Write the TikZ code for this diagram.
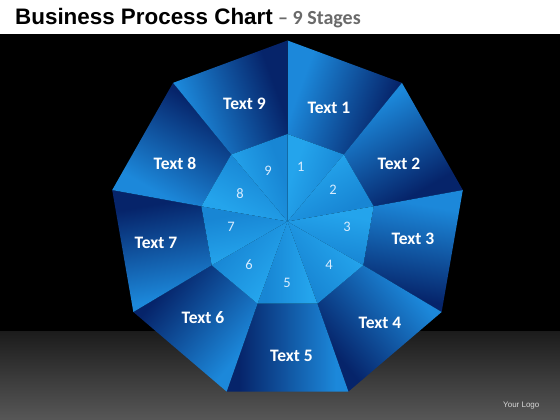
\documentclass[tikz,border=0pt]{standalone}
\usepackage{fontspec}
\setmainfont{Carlito}
\newfontfamily\titlefont{Liberation Sans}
\definecolor{segdark}{HTML}{06246A}
\definecolor{seglight}{HTML}{1C88DA}
\definecolor{inlight}{HTML}{24A4EC}
\definecolor{indark}{HTML}{1886D4}
\definecolor{floortop}{HTML}{1C1C1C}
\definecolor{floorbot}{HTML}{575757}
\definecolor{subgray}{HTML}{6A6A6A}
\definecolor{numcol}{HTML}{D8ECFF}
\definecolor{logocol}{HTML}{D8D8D8}
\pgfdeclarehorizontalshading{outshade}{100bp}{color(0bp)=(seglight); color(30bp)=(seglight); color(70bp)=(segdark); color(100bp)=(segdark)}
\pgfdeclarehorizontalshading{inshade}{100bp}{color(0bp)=(inlight); color(32bp)=(inlight); color(68bp)=(indark); color(100bp)=(indark)}
\tikzset{
  lbl/.style={text=white, font=\bfseries\fontsize{17.5}{19}\selectfont, inner sep=0pt},
  num/.style={text=numcol, font=\fontsize{14.5}{16}\selectfont, inner sep=0pt}
}
\begin{document}
\begin{tikzpicture}[x=1pt,y=1pt]
\useasboundingbox (0,0) rectangle (560,420);
% background
\fill[black] (0,0) rectangle (560,386);
\shade[top color=floortop, bottom color=floorbot] (0,0) rectangle (560,88);
\fill[white] (0,386) rectangle (560,420);
% chart
\begin{scope}[shift={(287.5,198.5)}]
\foreach \i in {1,...,9} {
  \pgfmathsetmacro\a{90-40*(\i-1)}
  \pgfmathsetmacro\b{\a-40}
  \pgfmathsetmacro\m{\a-110}
  \shade[shading=outshade, shading angle=\m]
    (\a:178 and 181) -- (\b:178 and 181) -- (\b:87.5) -- (\a:87.5) -- cycle;
  \shade[shading=inshade, shading angle=\m]
    (0,0) -- (\a:87.5) -- (\b:87.5) -- cycle;
}
\end{scope}
% outer labels
\node[lbl] (t1) at (329,312.5) {Text 1};
\node[lbl] (t2) at (399,256) {Text 2};
\node[lbl] (t3) at (413,181) {Text 3};
\node[lbl] (t4) at (380,97) {Text 4};
\node[lbl] (t5) at (291.5,64.5) {Text 5};
\node[lbl] (t6) at (203,102) {Text 6};
\node[lbl] (t7) at (156,177) {Text 7};
\node[lbl] (t8) at (175,256) {Text 8};
\node[lbl] (t9) at (244.5,316.5) {Text 9};
% inner numbers
\node[num] (n1) at (300.7,253.3) {1};
\node[num] (n2) at (333,230) {2};
\node[num] (n3) at (347,193) {3};
\node[num] (n4) at (329,155) {4};
\node[num] (n5) at (287,137) {5};
\node[num] (n6) at (249,155) {6};
\node[num] (n7) at (231,193) {7};
\node[num] (n8) at (240,226) {8};
\node[num] (n9) at (268,249) {9};
% title
\node[anchor=base west, inner sep=0pt] (title) at (15,395)
  {\titlefont\bfseries\fontsize{22.4}{24}\selectfont Business Process Chart};
\node[anchor=base west, inner sep=0pt, text=subgray] (sub) at (278,395)
  {\bfseries\fontsize{20}{22}\selectfont – 9 Stages};
\node[anchor=base west, inner sep=0pt, text=logocol] (logo) at (503,12)
  {\titlefont\fontsize{8}{9}\selectfont Your Logo};
\end{tikzpicture}
\end{document}
